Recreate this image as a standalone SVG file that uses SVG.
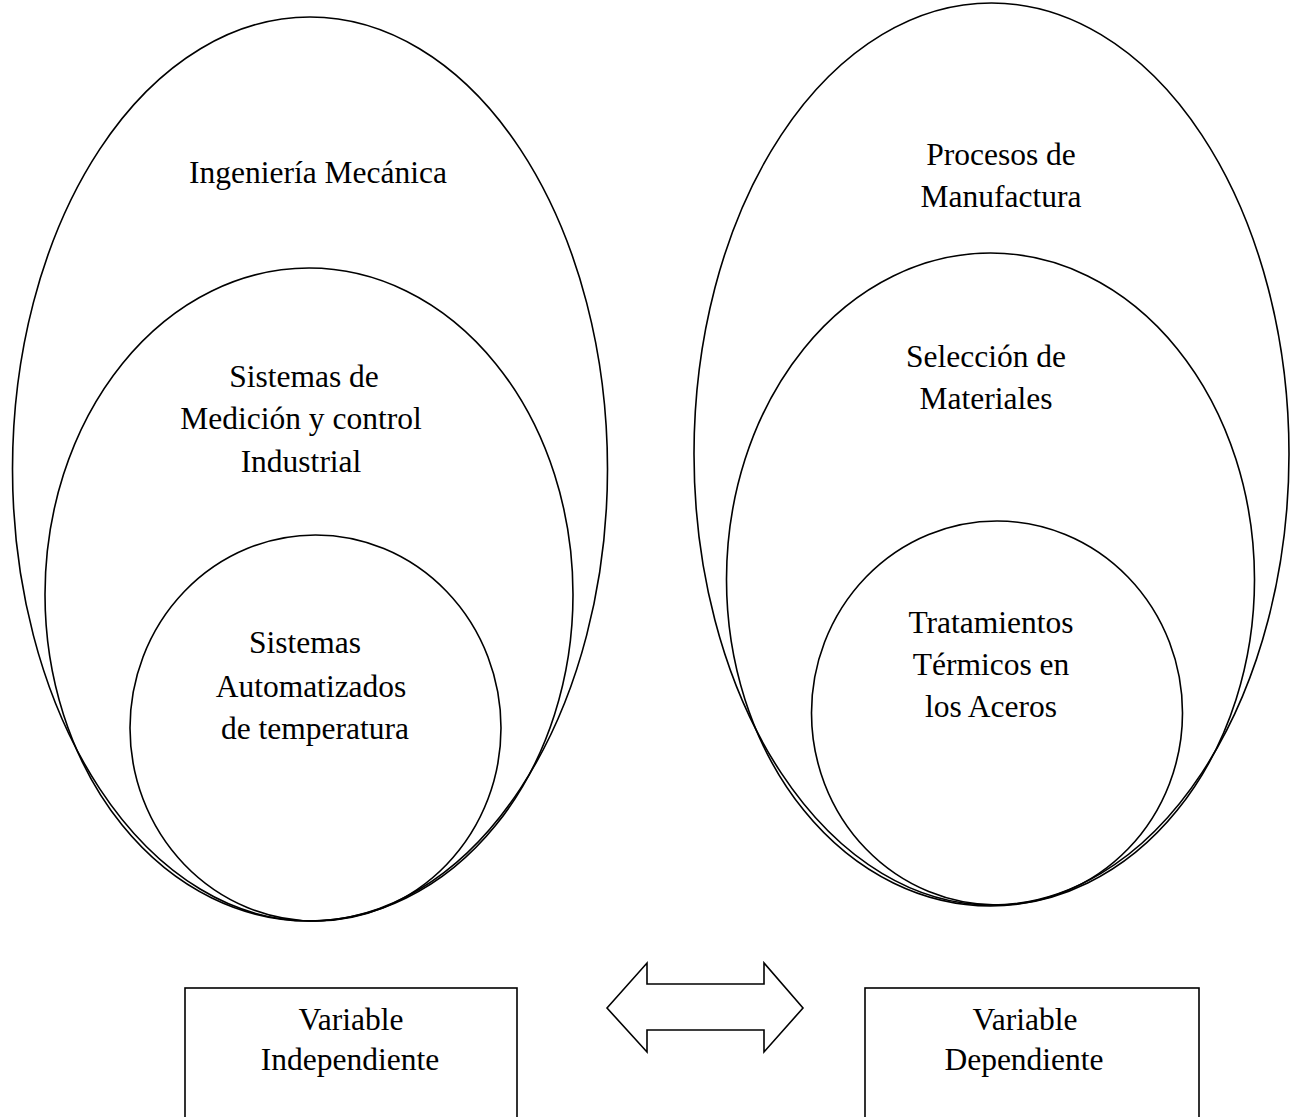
<svg xmlns="http://www.w3.org/2000/svg" width="1299" height="1117" viewBox="0 0 1299 1117">
<style>
.s{fill:none;stroke:#000;stroke-width:1.6}
.t{font-family:"Liberation Serif","Times New Roman",serif;font-size:31.5px;fill:#000;text-anchor:middle}
</style>
<rect width="1299" height="1117" fill="#fff"/>
<g id="ingenieria-mecanica">
<ellipse class="s" cx="310" cy="469" rx="297.5" ry="452"/>
<text class="t" x="318" y="183">Ingeniería Mecánica</text>
</g>
<g id="sistemas-medicion">
<ellipse class="s" cx="309" cy="594.5" rx="264" ry="326.5"/>
<text class="t" x="304" y="387">Sistemas de</text>
<text class="t" x="301" y="429">Medición y control</text>
<text class="t" x="301" y="472">Industrial</text>
</g>
<g id="sistemas-automatizados">
<ellipse class="s" cx="315.5" cy="728" rx="185.5" ry="193"/>
<text class="t" x="305" y="653">Sistemas</text>
<text class="t" x="311" y="697">Automatizados</text>
<text class="t" x="315" y="739">de temperatura</text>
</g>
<g id="procesos-manufactura">
<ellipse class="s" cx="991.5" cy="454" rx="297.5" ry="451"/>
<text class="t" x="1001" y="165">Procesos de</text>
<text class="t" x="1001" y="207">Manufactura</text>
</g>
<g id="seleccion-materiales">
<ellipse class="s" cx="990.5" cy="579.5" rx="264" ry="326.5"/>
<text class="t" x="986" y="367">Selección de</text>
<text class="t" x="986" y="409">Materiales</text>
</g>
<g id="tratamientos-termicos">
<ellipse class="s" cx="997" cy="713" rx="185.5" ry="192"/>
<text class="t" x="991" y="633">Tratamientos</text>
<text class="t" x="991" y="675">Térmicos en</text>
<text class="t" x="991" y="717">los Aceros</text>
</g>
<g id="variable-independiente">
<rect class="s" x="185" y="988" width="332" height="140"/>
<text class="t" x="351" y="1030">Variable</text>
<text class="t" x="350" y="1070">Independiente</text>
</g>
<g id="variable-dependiente">
<rect class="s" x="865" y="988" width="334" height="140"/>
<text class="t" x="1025" y="1030">Variable</text>
<text class="t" x="1024" y="1070">Dependiente</text>
</g>
<g id="connectors">
<polygon class="s" points="607,1008 647,963 647,984 764,984 764,963 803,1008 764,1052 764,1030 647,1030 647,1052"/>
</g>
</svg>
